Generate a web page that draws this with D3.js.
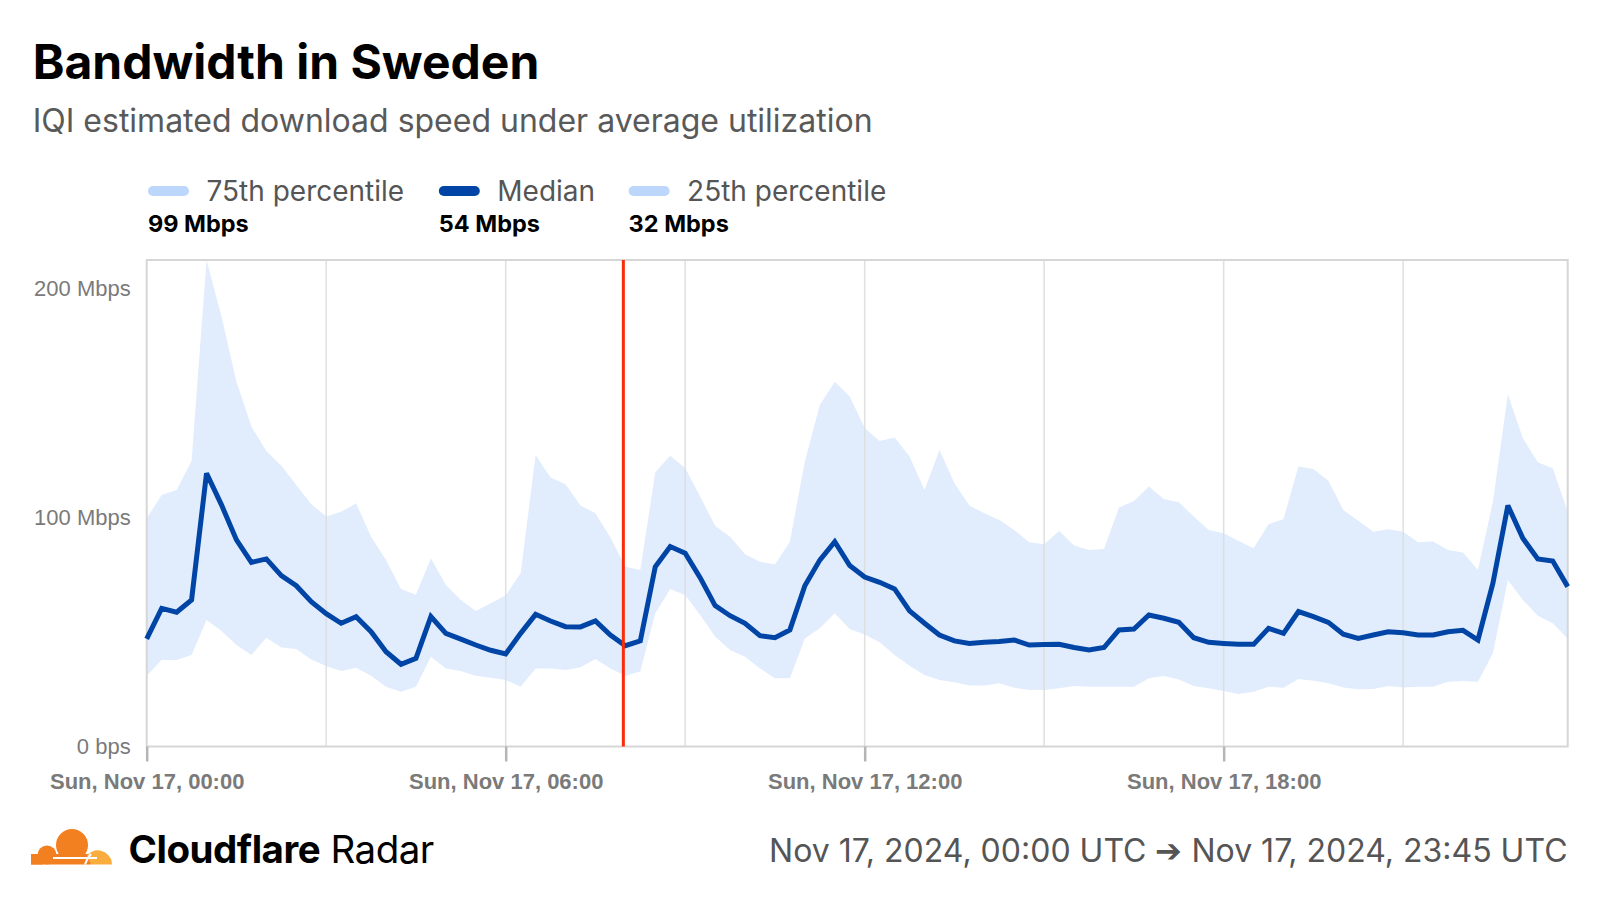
<!DOCTYPE html>
<html>
<head>
<meta charset="utf-8">
<script src="https://cdn.jsdelivr.net/npm/d3@7"></script>
<style>
  html, body { margin: 0; padding: 0; background: #fff; }
  svg { display: block; }
</style>
</head>
<body>
<svg id="chart" width="1600" height="900"></svg>
<script>
// ---------------- DATA ----------------
const title = "Bandwidth in Sweden";
const subtitle = "IQI estimated download speed under average utilization";
const seriesNames = ["75th percentile", "Median", "25th percentile"];
const seriesSummary = ["99 Mbps", "54 Mbps", "32 Mbps"];
const startTime = "2024-11-17T00:00:00Z";
const stepMinutes = 15;
const annotationTime = "2024-11-17T07:58:00Z";
const yTickValues = [0, 100, 200];
const yTickLabels = ["0 bps", "100 Mbps", "200 Mbps"];
const xTickHours = [0, 6, 12, 18];
const xGridHours = [3, 6, 9, 12, 15, 18, 21];
const footerBrand = "Cloudflare";
const footerProduct = "Radar";
const footerRange = "Nov 17, 2024, 00:00 UTC \u2794 Nov 17, 2024, 23:45 UTC";

const median = [47,60.3,58.6,64,119.3,105.5,90.2,80.4,81.9,74.6,70.2,63.2,58,
  53.8,56.7,50.1,41.4,35.9,38.5,56.7,49.4,46.9,44.3,42,40.4,
  49.4,57.7,54.8,52.3,52.2,54.8,48.7,44,46.1,78.5,87.3,84.4,
  73.7,61.5,57.1,53.8,48.4,47.5,50.9,70.2,81.4,89.4,79,74,
  71.7,68.8,59.2,53.8,48.7,46.1,45,45.5,45.8,46.5,44.3,44.5,
  44.6,43.2,42.1,43.2,50.9,51.3,57.4,56,54.2,47.5,45.5,45,
  44.6,44.6,51.6,49.4,58.9,56.7,54.2,49,47.2,48.7,50.1,49.7,48.7,48.7,50.1,50.7,46.5,71.3,105.2,90.9,81.9,81,69.8];

const p75 = [99.6,109.8,112,124.7,212.4,187.7,159.3,139.7,129,122.6,114.2,105.8,100.4,
  102.5,106.2,91.6,81.4,68.8,66.2,82.2,70.5,64,59.2,62.5,66,
  75.6,127.3,117.4,114.5,105.2,101.8,91.2,78.5,77.1,119.7,126.9,121.6,
  109.1,96.4,91.6,83.9,80.7,79.5,89.4,124.4,149.1,159.3,152.8,139,
  133.4,134.9,126.6,112,129.5,114.9,105.2,101.8,98.9,94.5,89.2,88.3,
  94.1,87.7,85.8,86.2,104.3,107.2,113.5,108.1,106.6,100.4,94.5,93.1,
  89.7,86.5,97,99.3,122.2,121.2,116,103.3,98.6,93.8,94.8,93.8,89.2,89.5,85.8,84.7,77.1,106.9,153.8,134.6,124.1,121.5,102.5];

const p25 = [30.9,37.8,37.8,40,55.2,50.4,44.3,40,47.5,43.2,42.6,38,35.2,
  33,34.4,30.9,26.1,23.9,26.1,39.2,34.1,33,30.9,30,29,
  26.1,34.1,34.1,33.4,34.6,38.2,34.1,30.9,32.7,58.2,68.8,66.1,
  57.4,48,42.1,39.2,34.1,29.8,29.8,47.2,51.6,58.2,51.3,48.9,
  45.5,40,35.3,31.2,29,28,26.6,26.6,27.6,25.7,24.7,24.7,
  25.4,26.4,26.1,26.1,26.1,26.1,29.8,30.8,29.3,26.4,25.4,24.2,
  22.9,23.9,26.1,25.7,29.5,28.7,27.6,25.8,25,25.1,26.4,25.8,26.1,26.1,28.3,28.6,28.3,40.7,72.7,64,57.1,53.8,47.2];

// ---------------- LAYOUT ----------------
const FONT = "Inter, 'Noto Sans', sans-serif";
const AXFONT = "'Liberation Sans', Arial, sans-serif";
const plot = { left: 146.7, right: 1567.7, top: 260, bottom: 746.5 };
const colors = { band: "#e1edfd", median: "#0045a6", legendLight: "#bcd7fb", red: "#fa2d0a",
  grid: "#dddddd", border: "#d6d6d6", tick: "#b5b5b5", axisText: "#7a7a7a" };

const t0 = new Date(startTime);
const times = median.map((_, i) => new Date(t0.getTime() + i * stepMinutes * 60000));
const data = times.map((t, i) => ({ t, m: median[i], hi: p75[i], lo: p25[i] }));

const svg = d3.select("#chart");

const x = d3.scaleUtc().domain(d3.extent(times)).range([plot.left, plot.right]);
const y = d3.scaleLinear().domain([0, d3.max(p75)]).range([plot.bottom, plot.top]);
const hourTime = h => new Date(t0.getTime() + h * 3600000);

// Title & subtitle
svg.append("text").attr("x", 32.7).attr("y", 79).attr("font-family", FONT)
  .attr("font-weight", 700).attr("font-size", 48).attr("fill", "#000").text(title);
svg.append("text").attr("x", 32.7).attr("y", 132).attr("font-family", FONT)
  .attr("font-size", 32).attr("fill", "#595959").text(subtitle);

// Legend
const legendX = [148, 438.8, 628.6];
const legendColors = [colors.legendLight, colors.median, colors.legendLight];
seriesNames.forEach((name, i) => {
  const g = svg.append("g").attr("transform", `translate(${legendX[i]},0)`);
  g.append("rect").attr("x", 0).attr("y", 186).attr("width", 41).attr("height", 10)
    .attr("rx", 5).attr("fill", legendColors[i]);
  g.append("text").attr("x", 58.5).attr("y", 201).attr("font-family", FONT)
    .attr("font-size", 28).attr("fill", "#555").text(name);
  g.append("text").attr("x", 0).attr("y", 232).attr("font-family", FONT)
    .attr("font-weight", 700).attr("font-size", 23.5).attr("fill", "#000").text(seriesSummary[i]);
});

// Band
svg.append("path").datum(data)
  .attr("d", d3.area().x(d => x(d.t)).y0(d => y(d.lo)).y1(d => y(d.hi)))
  .attr("fill", colors.band);

// Gridlines
svg.append("g").selectAll("line").data(xGridHours).join("line")
  .attr("x1", h => x(hourTime(h))).attr("x2", h => x(hourTime(h)))
  .attr("y1", plot.top).attr("y2", plot.bottom)
  .attr("stroke", colors.grid).attr("stroke-width", 1.5).attr("opacity", 0.9);

// Border frame
svg.append("rect").attr("x", plot.left).attr("y", plot.top)
  .attr("width", plot.right - plot.left).attr("height", plot.bottom - plot.top)
  .attr("fill", "none").attr("stroke", colors.border).attr("stroke-width", 2);

// X axis ticks
const xAxis = d3.axisBottom(x)
  .tickValues(xTickHours.map(hourTime))
  .tickFormat(d3.utcFormat("%a, %b %d, %H:%M"))
  .tickSize(15).tickPadding(12);
const gx = svg.append("g").attr("transform", `translate(0,${plot.bottom})`).call(xAxis);
gx.select(".domain").remove();
gx.selectAll(".tick line").attr("stroke", colors.tick).attr("stroke-width", 2.5);
gx.selectAll(".tick text").attr("font-family", AXFONT).attr("font-weight", 700)
  .attr("font-size", 22).attr("fill", colors.axisText).attr("dy", "0.71em");

// Y axis labels
const yAxis = d3.axisLeft(y).tickValues(yTickValues)
  .tickFormat((d, i) => yTickLabels[i]).tickSize(0).tickPadding(16);
const gy = svg.append("g").attr("transform", `translate(${plot.left},0)`).call(yAxis);
gy.select(".domain").remove();
gy.selectAll(".tick text").attr("font-family", AXFONT).attr("font-size", 22)
  .attr("fill", colors.axisText);

// Median line
svg.append("path").datum(data)
  .attr("d", d3.line().x(d => x(d.t)).y(d => y(d.m)))
  .attr("fill", "none").attr("stroke", colors.median).attr("stroke-width", 5)
  .attr("stroke-linejoin", "miter").attr("stroke-miterlimit", 3);

// Annotation red line
const ax = x(new Date(annotationTime));
svg.append("line").attr("x1", ax).attr("x2", ax).attr("y1", plot.top).attr("y2", plot.bottom)
  .attr("stroke", colors.red).attr("stroke-width", 3);

// Footer logo
const logo = svg.append("g").attr("transform", "translate(31,828)");
const dark = "#f38020", light = "#faad3f";
logo.append("circle").attr("cx", 41).attr("cy", 17).attr("r", 16).attr("fill", dark);
logo.append("circle").attr("cx", 16).attr("cy", 27).attr("r", 9.5).attr("fill", dark);
logo.append("rect").attr("x", 0).attr("y", 26).attr("width", 60).attr("height", 10.5).attr("fill", dark);
logo.append("path").attr("d", "M0,36.5 Q2,28 10,26 L12,36.5 Z").attr("fill", dark);
logo.append("path").attr("d", "M60,36.5 L56,27 Q66,18 76,26 Q81,30 81,36.5 Z").attr("fill", light);
logo.append("path").attr("d", "M54,36.5 Q57,29 60,26").attr("stroke", "#fff").attr("stroke-width", 2).attr("fill", "none");
logo.append("line").attr("x1", 22).attr("x2", 66).attr("y1", 30).attr("y2", 30).attr("stroke", "#fff").attr("stroke-width", 1.8);

const ft = svg.append("text").attr("x", 128.6).attr("y", 863).attr("font-family", FONT)
  .attr("font-size", 38.5).attr("fill", "#000").attr("letter-spacing", -0.5);
ft.append("tspan").attr("font-weight", 700).text(footerBrand);
ft.append("tspan").attr("font-weight", 400).text(" " + footerProduct);

svg.append("text").attr("x", 1567.5).attr("y", 862).attr("text-anchor", "end")
  .attr("font-family", FONT).attr("font-size", 32).attr("fill", "#555").text(footerRange);
</script>
</body>
</html>
